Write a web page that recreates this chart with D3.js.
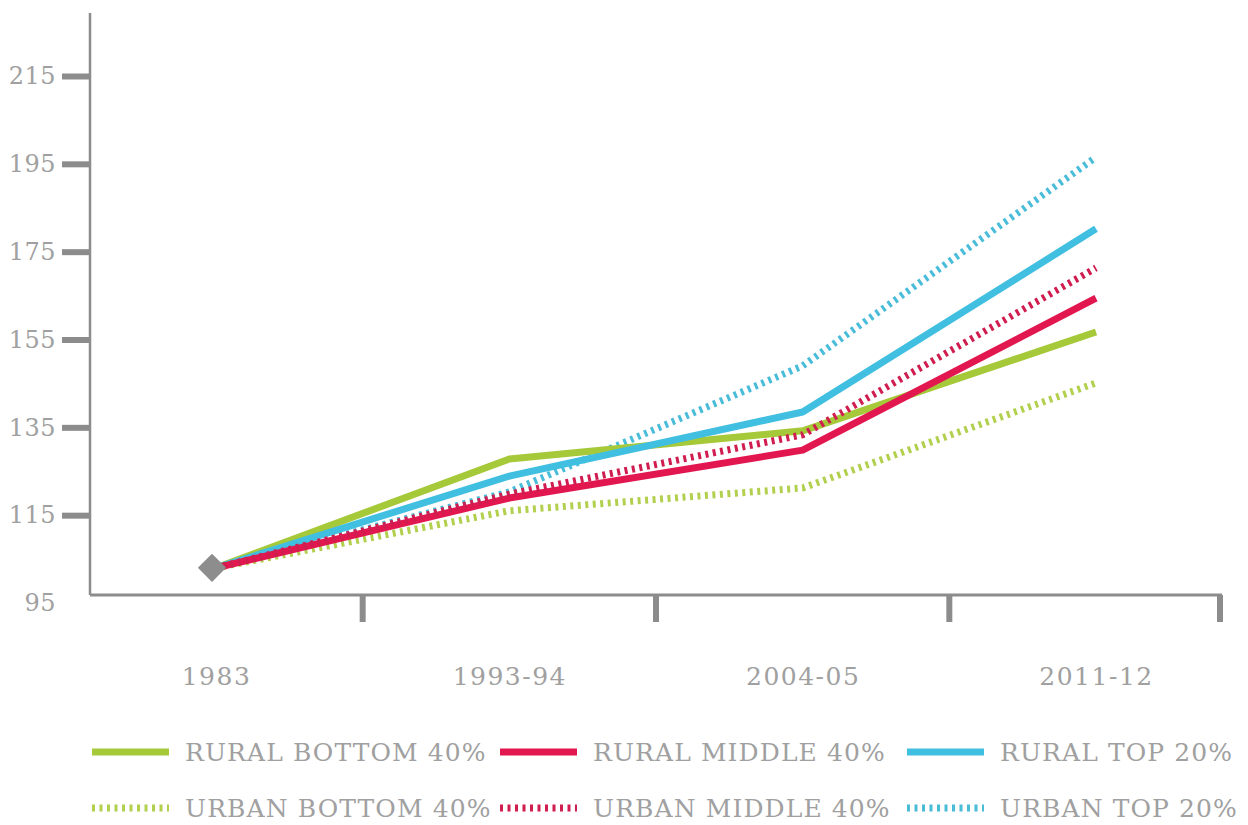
<!DOCTYPE html>
<html>
<head>
<meta charset="utf-8">
<script src="https://cdn.jsdelivr.net/npm/d3@7"></script>
<style>
  body { margin: 0; background: #fff; }
  text { font-family: "DejaVu Serif", serif; fill: #a0a0a0; }
</style>
</head>
<body>
<svg id="chart" width="1248" height="825"></svg>
<script>
// Data

const periods = ['1983', '1993-94', '2004-05', '2011-12'];
const yTicks = [95, 115, 135, 155, 175, 195, 215];

const ruralBottom = [103, 127.8, 134.2, 156.7];
const ruralMiddle = [103, 118.9, 129.8, 164.4];
const ruralTop = [103, 123.9, 138.5, 180.2];
const urbanBottom = [103, 116.0, 121.2, 145.1];
const urbanMiddle = [103, 119.8, 133.3, 171.3];
const urbanTop = [103, 120.3, 149.0, 196.5];

const legendNames = [
  'RURAL BOTTOM 40%', 'RURAL MIDDLE 40%', 'RURAL TOP 20%',
  'URBAN BOTTOM 40%', 'URBAN MIDDLE 40%', 'URBAN TOP 20%'
];

// Styles

const GREEN = '#a6c93a';
const RED = '#e2174f';
const BLUE = '#40bfe0';
const GREEN_DOT = '#b2d04e';
const RED_DOT = '#d01d50';
const BLUE_DOT = '#48bcd9';

const series = [
  { name: legendNames[3], values: urbanBottom, color: GREEN_DOT, dotted: true },
  { name: legendNames[5], values: urbanTop, color: BLUE_DOT, dotted: true },
  { name: legendNames[0], values: ruralBottom, color: GREEN, dotted: false },
  { name: legendNames[2], values: ruralTop, color: BLUE, dotted: false },
  { name: legendNames[1], values: ruralMiddle, color: RED, dotted: false },
  { name: legendNames[4], values: urbanMiddle, color: RED_DOT, dotted: true }
];

const axisColor = '#8c8c8c';
const labelColor = '#a3a3a3';
const axisX = 90;
const axisY = 595;
const axisTop = 13;
const axisRight = 1222;

const svg = d3.select('#chart');
svg.append('rect').attr('width', 1248).attr('height', 825).attr('fill', '#fff');

// Scales

const xScale = d3.scalePoint().domain(periods).range([216, 1096]);
const step = xScale.step();
const yScale = d3.scaleLinear().domain([95, 215]).range([603, 76]);

// Y axis

const yAxis = d3.axisLeft(yScale).tickValues(yTicks).tickSize(28).tickPadding(6);
const yAxisG = svg.append('g')
  .attr('transform', `translate(${axisX},0)`)
  .call(yAxis);
yAxisG.select('.domain').remove();
yAxisG.selectAll('.tick line')
  .attr('stroke', axisColor)
  .attr('stroke-width', 6)
  .attr('display', d => (d === 95 ? 'none' : null));
yAxisG.selectAll('.tick text')
  .attr('font-size', 24)
  .attr('font-family', '"DejaVu Serif", serif')
  .attr('letter-spacing', 0.5)
  .attr('fill', labelColor);

svg.append('line')
  .attr('x1', axisX).attr('x2', axisX)
  .attr('y1', axisTop).attr('y2', axisY)
  .attr('stroke', axisColor).attr('stroke-width', 2.5);

// X axis

const xAxis = d3.axisBottom(xScale).tickSize(0).tickPadding(72);
const xAxisG = svg.append('g')
  .attr('transform', `translate(0,${axisY})`)
  .call(xAxis);
xAxisG.select('.domain').remove();
xAxisG.selectAll('.tick text')
  .attr('font-size', 25)
  .attr('font-family', '"DejaVu Serif", serif')
  .attr('letter-spacing', 1.5)
  .attr('fill', labelColor);

svg.append('line')
  .attr('x1', axisX).attr('x2', axisRight)
  .attr('y1', axisY).attr('y2', axisY)
  .attr('stroke', axisColor).attr('stroke-width', 3);

// tick marks sit halfway between periods, the last one at the end of the axis
const tickX = d => Math.min(xScale(d) + step / 2, axisRight - 2);

svg.append('g')
  .selectAll('line')
  .data(periods)
  .enter()
  .append('line')
  .attr('x1', tickX)
  .attr('x2', tickX)
  .attr('y1', axisY)
  .attr('y2', axisY + 27)
  .attr('stroke', axisColor)
  .attr('stroke-width', 6);

// Lines

const lineGenerator = d3.line()
  .x((d, i) => xScale(periods[i]))
  .y(d => yScale(d));

svg.append('g')
  .selectAll('path')
  .data(series)
  .enter()
  .append('path')
  .attr('d', d => lineGenerator(d.values))
  .attr('fill', 'none')
  .attr('stroke', d => d.color)
  .attr('stroke-width', 7)
  .attr('stroke-dasharray', d => (d.dotted ? '3,4.5' : null))
  .attr('stroke-linejoin', 'round');

// Start marker

svg.append('path')
  .attr('d', d3.symbol(d3.symbolSquare, 400)())
  .attr('transform', `translate(${xScale(periods[0]) - 4},${yScale(ruralBottom[0])}) rotate(45)`)
  .attr('fill', '#8d8d8d');

// Legend

const legendCols = [92, 500, 907];
const legendRows = [752, 808];
const legendOrder = [
  { name: legendNames[0], color: GREEN, dotted: false },
  { name: legendNames[1], color: RED, dotted: false },
  { name: legendNames[2], color: BLUE, dotted: false },
  { name: legendNames[3], color: GREEN_DOT, dotted: true },
  { name: legendNames[4], color: RED_DOT, dotted: true },
  { name: legendNames[5], color: BLUE_DOT, dotted: true }
];

const legend = svg.append('g')
  .selectAll('g')
  .data(legendOrder)
  .enter()
  .append('g')
  .attr('transform', (d, i) => `translate(${legendCols[i % 3]},${legendRows[Math.floor(i / 3)]})`);

legend.append('line')
  .attr('x1', 0).attr('x2', 77)
  .attr('y1', 0).attr('y2', 0)
  .attr('stroke', d => d.color)
  .attr('stroke-width', 7)
  .attr('stroke-dasharray', d => (d.dotted ? '3,4.5' : null));

legend.append('text')
  .attr('x', 93)
  .attr('y', 0)
  .attr('dy', '0.36em')
  .attr('font-size', 25)
  .attr('letter-spacing', 1.1)
  .attr('fill', labelColor)
  .text(d => d.name);
</script>
</body>
</html>
